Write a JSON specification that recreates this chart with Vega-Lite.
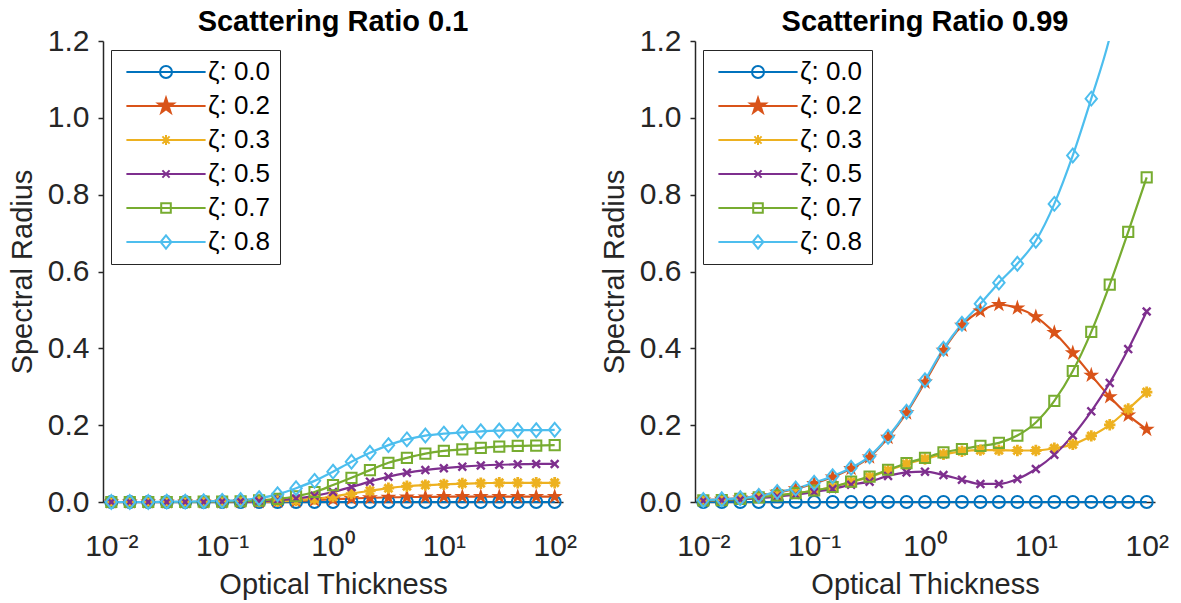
{
  "$schema": "https://vega.github.io/schema/vega-lite/v6.json",
  "background": "white",
  "padding": {"left": 8, "top": 8, "right": 4, "bottom": 2},
  "bounds": "flush",
  "spacing": 132,
  "datasets": {
    "s01": [
      {"x": 0.01, "c00": 0, "c02": 0, "c03": 0, "c05": 0, "c07": 0, "c08": 0},
      {"x": 0.014678, "c00": 0, "c02": 0, "c03": 0, "c05": 0, "c07": 0, "c08": 0},
      {"x": 0.021544, "c00": 0, "c02": 0, "c03": 0, "c05": 0, "c07": 0, "c08": 0},
      {"x": 0.031623, "c00": 0, "c02": 0, "c03": 0, "c05": 0, "c07": 0, "c08": 0.001},
      {"x": 0.046416, "c00": 0, "c02": 0, "c03": 0, "c05": 0, "c07": 0, "c08": 0.001},
      {"x": 0.068129, "c00": 0, "c02": 0, "c03": 0, "c05": 0, "c07": 0.001, "c08": 0.002},
      {"x": 0.1, "c00": 0, "c02": 0, "c03": 0, "c05": 0.001, "c07": 0.001, "c08": 0.003},
      {"x": 0.14678, "c00": 0, "c02": 0.001, "c03": 0.001, "c05": 0.001, "c07": 0.002, "c08": 0.005},
      {"x": 0.21544, "c00": 0, "c02": 0.001, "c03": 0.001, "c05": 0.002, "c07": 0.004, "c08": 0.01},
      {"x": 0.31623, "c00": 0, "c02": 0.002, "c03": 0.002, "c05": 0.005, "c07": 0.008, "c08": 0.02},
      {"x": 0.46416, "c00": 0, "c02": 0.003, "c03": 0.004, "c05": 0.009, "c07": 0.015, "c08": 0.036},
      {"x": 0.68129, "c00": 0, "c02": 0.005, "c03": 0.008, "c05": 0.016, "c07": 0.026, "c08": 0.055},
      {"x": 1, "c00": 0, "c02": 0.007, "c03": 0.014, "c05": 0.026, "c07": 0.044, "c08": 0.079},
      {"x": 1.4678, "c00": 0, "c02": 0.009, "c03": 0.022, "c05": 0.039, "c07": 0.063, "c08": 0.105},
      {"x": 2.1544, "c00": 0, "c02": 0.011, "c03": 0.029, "c05": 0.053, "c07": 0.083, "c08": 0.128},
      {"x": 3.1623, "c00": 0, "c02": 0.012, "c03": 0.036, "c05": 0.066, "c07": 0.102, "c08": 0.148},
      {"x": 4.6416, "c00": 0, "c02": 0.013, "c03": 0.041, "c05": 0.076, "c07": 0.115, "c08": 0.163},
      {"x": 6.8129, "c00": 0, "c02": 0.013, "c03": 0.044, "c05": 0.083, "c07": 0.126, "c08": 0.173},
      {"x": 10, "c00": 0, "c02": 0.014, "c03": 0.046, "c05": 0.088, "c07": 0.133, "c08": 0.178},
      {"x": 14.678, "c00": 0, "c02": 0.014, "c03": 0.048, "c05": 0.092, "c07": 0.137, "c08": 0.181},
      {"x": 21.544, "c00": 0, "c02": 0.014, "c03": 0.049, "c05": 0.095, "c07": 0.141, "c08": 0.184},
      {"x": 31.623, "c00": 0, "c02": 0.014, "c03": 0.05, "c05": 0.097, "c07": 0.144, "c08": 0.186},
      {"x": 46.416, "c00": 0, "c02": 0.014, "c03": 0.05, "c05": 0.098, "c07": 0.146, "c08": 0.187},
      {"x": 68.129, "c00": 0, "c02": 0.014, "c03": 0.05, "c05": 0.099, "c07": 0.147, "c08": 0.187},
      {"x": 100, "c00": 0, "c02": 0.014, "c03": 0.05, "c05": 0.099, "c07": 0.148, "c08": 0.188}
    ],
    "s099": [
      {"x": 0.01, "c00": 0, "c02": 0.005, "c03": 0.004, "c05": 0.003, "c07": 0.004, "c08": 0.005},
      {"x": 0.014678, "c00": 0, "c02": 0.007, "c03": 0.005, "c05": 0.004, "c07": 0.005, "c08": 0.007},
      {"x": 0.021544, "c00": 0, "c02": 0.01, "c03": 0.008, "c05": 0.006, "c07": 0.008, "c08": 0.01},
      {"x": 0.031623, "c00": 0, "c02": 0.016, "c03": 0.012, "c05": 0.01, "c07": 0.012, "c08": 0.016},
      {"x": 0.046416, "c00": 0, "c02": 0.025, "c03": 0.017, "c05": 0.014, "c07": 0.017, "c08": 0.026},
      {"x": 0.068129, "c00": 0, "c02": 0.034, "c03": 0.023, "c05": 0.019, "c07": 0.023, "c08": 0.035},
      {"x": 0.1, "c00": 0, "c02": 0.048, "c03": 0.03, "c05": 0.026, "c07": 0.03, "c08": 0.05},
      {"x": 0.14678, "c00": 0, "c02": 0.065, "c03": 0.039, "c05": 0.034, "c07": 0.039, "c08": 0.067},
      {"x": 0.21544, "c00": 0, "c02": 0.087, "c03": 0.052, "c05": 0.045, "c07": 0.053, "c08": 0.089},
      {"x": 0.31623, "c00": 0, "c02": 0.117, "c03": 0.065, "c05": 0.053, "c07": 0.066, "c08": 0.119},
      {"x": 0.46416, "c00": 0, "c02": 0.168, "c03": 0.082, "c05": 0.068, "c07": 0.084, "c08": 0.17},
      {"x": 0.68129, "c00": 0, "c02": 0.232, "c03": 0.099, "c05": 0.077, "c07": 0.101, "c08": 0.235},
      {"x": 1, "c00": 0, "c02": 0.312, "c03": 0.112, "c05": 0.079, "c07": 0.115, "c08": 0.317},
      {"x": 1.4678, "c00": 0, "c02": 0.395, "c03": 0.124, "c05": 0.07, "c07": 0.129, "c08": 0.399},
      {"x": 2.1544, "c00": 0, "c02": 0.46, "c03": 0.132, "c05": 0.058, "c07": 0.138, "c08": 0.464},
      {"x": 3.1623, "c00": 0, "c02": 0.497, "c03": 0.135, "c05": 0.047, "c07": 0.146, "c08": 0.516},
      {"x": 4.6416, "c00": 0, "c02": 0.514, "c03": 0.135, "c05": 0.047, "c07": 0.154, "c08": 0.571},
      {"x": 6.8129, "c00": 0, "c02": 0.505, "c03": 0.134, "c05": 0.06, "c07": 0.173, "c08": 0.62},
      {"x": 10, "c00": 0, "c02": 0.482, "c03": 0.134, "c05": 0.086, "c07": 0.207, "c08": 0.68},
      {"x": 14.678, "c00": 0, "c02": 0.441, "c03": 0.14, "c05": 0.123, "c07": 0.263, "c08": 0.776},
      {"x": 21.544, "c00": 0, "c02": 0.388, "c03": 0.15, "c05": 0.173, "c07": 0.341, "c08": 0.902},
      {"x": 31.623, "c00": 0, "c02": 0.33, "c03": 0.172, "c05": 0.236, "c07": 0.443, "c08": 1.05},
      {"x": 46.416, "c00": 0, "c02": 0.274, "c03": 0.201, "c05": 0.31, "c07": 0.566, "c08": 1.21},
      {"x": 68.129, "c00": 0, "c02": 0.226, "c03": 0.242, "c05": 0.398, "c07": 0.703, "c08": 1.44},
      {"x": 100, "c00": 0, "c02": 0.189, "c03": 0.286, "c05": 0.496, "c07": 0.845, "c08": 1.68}
    ]
  },
  "hconcat": [
    {
      "data": {"name": "s01"},
      "transform": [{"fold": ["c00", "c02", "c03", "c05", "c07", "c08"], "as": ["key", "v"]}],
      "width": 460,
      "height": 461,
      "title": {"text": "Scattering Ratio 0.1"},
      "encoding": {
        "x": {"field": "x", "type": "quantitative", "title": "Optical Thickness",
          "scale": {"type": "log", "domain": [0.008414, 118.85], "nice": false},
          "axis": {"values": [0.01, 0.1, 1, 10, 100], "labelExpr": "datum.value < 0.05 ? '10⁻²' : datum.value < 0.5 ? '10⁻¹' : datum.value < 5 ? '10⁰' : datum.value < 50 ? '10¹' : '10²'", "ticks": false, "tickSize": 0, "labelPadding": 29, "titlePadding": 9}},
        "y": {"field": "v", "type": "quantitative", "title": "Spectral Radius",
          "scale": {"domain": [0, 1.2], "nice": false, "zero": false},
          "axis": {"values": [0, 0.2, 0.4, 0.6, 0.8, 1, 1.2], "format": ".1f", "tickSize": 5, "labelPadding": 9, "titlePadding": 10}}
      },
      "layer": [
        {"mark": {"type": "line", "interpolate": "monotone", "strokeWidth": 2.2},
         "encoding": {"color": {"field": "key", "type": "nominal", "legend": null,
           "scale": {"domain": ["c00", "c02", "c03", "c05", "c07", "c08"], "range": ["#0072BD", "#D95319", "#EDB120", "#7E2F8E", "#77AC30", "#4DBEEE"]}}}},
        {"transform": [{"filter": "datum.key === 'c00'"}],
         "mark": {"type": "point", "shape": "circle", "size": 144, "filled": false, "opacity": 1, "strokeWidth": 2, "color": "#0072BD"}},
        {"transform": [{"filter": "datum.key === 'c02'"}],
         "mark": {"type": "point", "shape": "M0,-1.2L0.27,-0.371L1.141,-0.371L0.436,0.142L0.706,0.971L0,0.458L-0.706,0.971L-0.436,0.142L-1.141,-0.371L-0.27,-0.371Z", "size": 196, "filled": true, "opacity": 1, "color": "#D95319"}},
        {"transform": [{"filter": "datum.key === 'c03'"}],
         "mark": {"type": "point", "shape": "M-0.95,0H0.95M0,-0.95V0.95M-0.67,-0.67L0.67,0.67M-0.67,0.67L0.67,-0.67", "size": 144, "filled": false, "opacity": 1, "strokeWidth": 2.8, "color": "#EDB120"}},
        {"transform": [{"filter": "datum.key === 'c05'"}],
         "mark": {"type": "point", "shape": "M-0.65,-0.65L0.65,0.65M-0.65,0.65L0.65,-0.65", "size": 144, "filled": false, "opacity": 1, "strokeWidth": 2.4, "color": "#7E2F8E"}},
        {"transform": [{"filter": "datum.key === 'c07'"}],
         "mark": {"type": "point", "shape": "M-0.85,-0.85H0.85V0.85H-0.85Z", "size": 144, "filled": false, "opacity": 1, "strokeWidth": 2, "color": "#77AC30"}},
        {"transform": [{"filter": "datum.key === 'c08'"}],
         "mark": {"type": "point", "shape": "M0,-1.15L0.95,0L0,1.15L-0.95,0Z", "size": 144, "filled": false, "opacity": 1, "strokeWidth": 2, "color": "#4DBEEE"}},
        {"transform": [{"filter": "false"}],
         "mark": {"type": "point", "filled": false, "opacity": 1, "strokeWidth": 2},
         "encoding": {
           "shape": {"field": "series", "type": "nominal",
             "scale": {"domain": ["ζ: 0.0", "ζ: 0.2", "ζ: 0.3", "ζ: 0.5", "ζ: 0.7", "ζ: 0.8"],
               "range": [
                 "M-6.6,0H6.6M1,0A1,1,0,1,1,-1,0A1,1,0,1,1,1,0Z",
                 "M-6.6,0H6.6M0,-1.35L0.3,-0.42L1.28,-0.42L0.49,0.16L0.79,1.09L0,0.52L-0.79,1.09L-0.49,0.16L-1.28,-0.42L-0.3,-0.42Z",
                 "M-6.6,0H6.6M-0.85,0H0.85M0,-0.85V0.85M-0.6,-0.6L0.6,0.6M-0.6,0.6L0.6,-0.6",
                 "M-6.6,0H6.6M-0.6,-0.6L0.6,0.6M-0.6,0.6L0.6,-0.6",
                 "M-6.6,0H6.6M-0.8,-0.8H0.8V0.8H-0.8Z",
                 "M-6.6,0H6.6M0,-1.1L0.9,0L0,1.1L-0.9,0Z"]},
             "legend": {"title": null, "orient": "none", "legendX": 8, "legendY": 9, "padding": 9,
               "strokeColor": "#262626", "fillColor": "white", "symbolSize": 144, "symbolStrokeWidth": 2,
               "symbolOffset": 33, "labelOffset": 29, "labelFont": "Liberation Sans", "labelFontSize": 26,
               "labelColor": "#000000", "rowPadding": 8, "labelLimit": 300,
               "encode": {"legend": {"update": {"strokeWidth": {"value": 2}}}}}},
           "stroke": {"field": "series", "type": "nominal",
             "scale": {"domain": ["ζ: 0.0", "ζ: 0.2", "ζ: 0.3", "ζ: 0.5", "ζ: 0.7", "ζ: 0.8"],
               "range": ["#0072BD", "#D95319", "#EDB120", "#7E2F8E", "#77AC30", "#4DBEEE"]},
             "legend": {"title": null, "orient": "none", "legendX": 8, "legendY": 9, "padding": 9,
               "strokeColor": "#262626", "fillColor": "white", "symbolSize": 144, "symbolStrokeWidth": 2,
               "symbolOffset": 33, "labelOffset": 29, "labelFont": "Liberation Sans", "labelFontSize": 26,
               "labelColor": "#000000", "rowPadding": 8, "labelLimit": 300}},
           "fill": {"field": "series", "type": "nominal",
             "scale": {"domain": ["ζ: 0.0", "ζ: 0.2", "ζ: 0.3", "ζ: 0.5", "ζ: 0.7", "ζ: 0.8"],
               "range": ["transparent", "#D95319", "transparent", "transparent", "transparent", "transparent"]},
             "legend": {"title": null, "orient": "none", "legendX": 8, "legendY": 9, "padding": 9,
               "strokeColor": "#262626", "fillColor": "white", "symbolSize": 144, "symbolStrokeWidth": 2,
               "symbolOffset": 33, "labelOffset": 29, "labelFont": "Liberation Sans", "labelFontSize": 26,
               "labelColor": "#000000", "rowPadding": 8, "labelLimit": 300}}
         }}
      ]
    },
    {
      "data": {"name": "s099"},
      "transform": [{"fold": ["c00", "c02", "c03", "c05", "c07", "c08"], "as": ["key", "v"]}],
      "width": 460,
      "height": 461,
      "title": {"text": "Scattering Ratio 0.99"},
      "encoding": {
        "x": {"field": "x", "type": "quantitative", "title": "Optical Thickness",
          "scale": {"type": "log", "domain": [0.008414, 118.85], "nice": false},
          "axis": {"values": [0.01, 0.1, 1, 10, 100], "labelExpr": "datum.value < 0.05 ? '10⁻²' : datum.value < 0.5 ? '10⁻¹' : datum.value < 5 ? '10⁰' : datum.value < 50 ? '10¹' : '10²'", "ticks": false, "tickSize": 0, "labelPadding": 29, "titlePadding": 9}},
        "y": {"field": "v", "type": "quantitative", "title": "Spectral Radius",
          "scale": {"domain": [0, 1.2], "nice": false, "zero": false},
          "axis": {"values": [0, 0.2, 0.4, 0.6, 0.8, 1, 1.2], "format": ".1f", "tickSize": 5, "labelPadding": 9, "titlePadding": 10}}
      },
      "layer": [
        {"transform": [{"filter": "datum.key !== 'c08'"}],
         "mark": {"type": "line", "interpolate": "monotone", "strokeWidth": 2.2},
         "encoding": {"color": {"field": "key", "type": "nominal", "legend": null,
           "scale": {"domain": ["c00", "c02", "c03", "c05", "c07", "c08"], "range": ["#0072BD", "#D95319", "#EDB120", "#7E2F8E", "#77AC30", "#4DBEEE"]}}}},
        {"transform": [{"filter": "datum.key === 'c08'"}],
         "mark": {"type": "line", "interpolate": "monotone", "strokeWidth": 2.2, "clip": true, "color": "#4DBEEE"}},
        {"transform": [{"filter": "datum.key === 'c00'"}],
         "mark": {"type": "point", "shape": "circle", "size": 144, "filled": false, "opacity": 1, "strokeWidth": 2, "color": "#0072BD"}},
        {"transform": [{"filter": "datum.key === 'c02'"}],
         "mark": {"type": "point", "shape": "M0,-1.2L0.27,-0.371L1.141,-0.371L0.436,0.142L0.706,0.971L0,0.458L-0.706,0.971L-0.436,0.142L-1.141,-0.371L-0.27,-0.371Z", "size": 196, "filled": true, "opacity": 1, "color": "#D95319"}},
        {"transform": [{"filter": "datum.key === 'c03'"}],
         "mark": {"type": "point", "shape": "M-0.95,0H0.95M0,-0.95V0.95M-0.67,-0.67L0.67,0.67M-0.67,0.67L0.67,-0.67", "size": 144, "filled": false, "opacity": 1, "strokeWidth": 2.8, "color": "#EDB120"}},
        {"transform": [{"filter": "datum.key === 'c05'"}],
         "mark": {"type": "point", "shape": "M-0.65,-0.65L0.65,0.65M-0.65,0.65L0.65,-0.65", "size": 144, "filled": false, "opacity": 1, "strokeWidth": 2.4, "color": "#7E2F8E"}},
        {"transform": [{"filter": "datum.key === 'c07'"}],
         "mark": {"type": "point", "shape": "M-0.85,-0.85H0.85V0.85H-0.85Z", "size": 144, "filled": false, "opacity": 1, "strokeWidth": 2, "color": "#77AC30"}},
        {"transform": [{"filter": "datum.key === 'c08' && datum.v <= 1.2"}],
         "mark": {"type": "point", "shape": "M0,-1.15L0.95,0L0,1.15L-0.95,0Z", "size": 144, "filled": false, "opacity": 1, "strokeWidth": 2, "color": "#4DBEEE"}},
        {"transform": [{"filter": "false"}],
         "mark": {"type": "point", "filled": false, "opacity": 1, "strokeWidth": 2},
         "encoding": {
           "shape": {"field": "series", "type": "nominal",
             "scale": {"domain": ["ζ: 0.0", "ζ: 0.2", "ζ: 0.3", "ζ: 0.5", "ζ: 0.7", "ζ: 0.8"],
               "range": [
                 "M-6.6,0H6.6M1,0A1,1,0,1,1,-1,0A1,1,0,1,1,1,0Z",
                 "M-6.6,0H6.6M0,-1.35L0.3,-0.42L1.28,-0.42L0.49,0.16L0.79,1.09L0,0.52L-0.79,1.09L-0.49,0.16L-1.28,-0.42L-0.3,-0.42Z",
                 "M-6.6,0H6.6M-0.85,0H0.85M0,-0.85V0.85M-0.6,-0.6L0.6,0.6M-0.6,0.6L0.6,-0.6",
                 "M-6.6,0H6.6M-0.6,-0.6L0.6,0.6M-0.6,0.6L0.6,-0.6",
                 "M-6.6,0H6.6M-0.8,-0.8H0.8V0.8H-0.8Z",
                 "M-6.6,0H6.6M0,-1.1L0.9,0L0,1.1L-0.9,0Z"]},
             "legend": {"title": null, "orient": "none", "legendX": 8, "legendY": 9, "padding": 9,
               "strokeColor": "#262626", "fillColor": "white", "symbolSize": 144, "symbolStrokeWidth": 2,
               "symbolOffset": 33, "labelOffset": 29, "labelFont": "Liberation Sans", "labelFontSize": 26,
               "labelColor": "#000000", "rowPadding": 8, "labelLimit": 300,
               "encode": {"legend": {"update": {"strokeWidth": {"value": 2}}}}}},
           "stroke": {"field": "series", "type": "nominal",
             "scale": {"domain": ["ζ: 0.0", "ζ: 0.2", "ζ: 0.3", "ζ: 0.5", "ζ: 0.7", "ζ: 0.8"],
               "range": ["#0072BD", "#D95319", "#EDB120", "#7E2F8E", "#77AC30", "#4DBEEE"]},
             "legend": {"title": null, "orient": "none", "legendX": 8, "legendY": 9, "padding": 9,
               "strokeColor": "#262626", "fillColor": "white", "symbolSize": 144, "symbolStrokeWidth": 2,
               "symbolOffset": 33, "labelOffset": 29, "labelFont": "Liberation Sans", "labelFontSize": 26,
               "labelColor": "#000000", "rowPadding": 8, "labelLimit": 300}},
           "fill": {"field": "series", "type": "nominal",
             "scale": {"domain": ["ζ: 0.0", "ζ: 0.2", "ζ: 0.3", "ζ: 0.5", "ζ: 0.7", "ζ: 0.8"],
               "range": ["transparent", "#D95319", "transparent", "transparent", "transparent", "transparent"]},
             "legend": {"title": null, "orient": "none", "legendX": 8, "legendY": 9, "padding": 9,
               "strokeColor": "#262626", "fillColor": "white", "symbolSize": 144, "symbolStrokeWidth": 2,
               "symbolOffset": 33, "labelOffset": 29, "labelFont": "Liberation Sans", "labelFontSize": 26,
               "labelColor": "#000000", "rowPadding": 8, "labelLimit": 300}}
         }}
      ]
    }
  ],
  "resolve": {
    "scale": {"shape": "independent", "stroke": "independent", "fill": "independent"},
    "legend": {"shape": "independent", "stroke": "independent", "fill": "independent"}
  },
  "config": {
    "view": {"stroke": null},
    "font": "Liberation Sans",
    "title": {"font": "Liberation Sans", "fontSize": 29, "fontWeight": "bold", "color": "#000000", "offset": -11},
    "axis": {"labelFont": "Liberation Sans", "titleFont": "Liberation Sans", "labelFontSize": 30, "titleFontSize": 29,
      "titleFontWeight": "normal", "labelColor": "#262626", "titleColor": "#262626", "domainColor": "#262626",
      "tickColor": "#262626", "domainWidth": 1.5, "tickWidth": 1.5, "grid": false, "labelOverlap": false}
  }
}
